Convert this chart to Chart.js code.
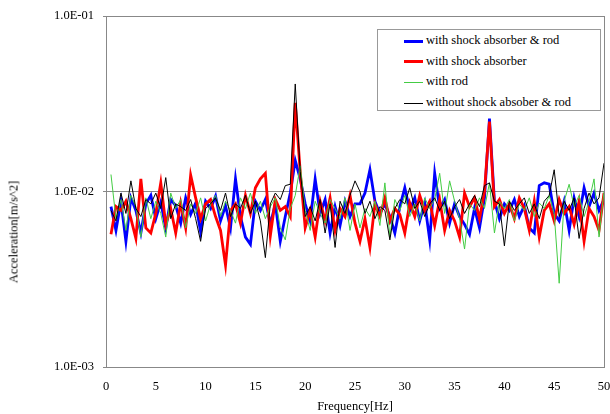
<!DOCTYPE html>
<html>
<head>
<meta charset="utf-8">
<script src="https://cdn.jsdelivr.net/npm/chart.js@4/dist/chart.umd.min.js"></script>
<style>
  body { margin: 0; background: #fff; }
  #wrap { position: relative; width: 610px; height: 414px; font-family: "Liberation Serif", serif; }
  #ytitle { position: absolute; left: 14px; top: 232px; transform: translate(-50%, -50%) rotate(-90deg);
            font-size: 12.5px; white-space: nowrap; color: #000; }
  #legend { position: absolute; left: 377px; top: 29px; width: 224px; height: 82px;
            border: 1px solid #999; background: #fff; box-sizing: border-box; }
  .item { position: absolute; left: 26px; height: 16px; font-size: 12.5px; line-height: 16px; white-space: nowrap; }
  .item span.sw { display: inline-block; width: 19px; vertical-align: middle; margin-right: 3px; }
</style>
</head>
<body>
<div id="wrap">
  <canvas id="chart" width="610" height="414"></canvas>
  <div id="ytitle">Acceleration[m/s^2]</div>
  <div id="legend"></div>
</div>
<script>
const freqs = [];
for (let i = 1; i <= 100; i++) freqs.push(i / 2);

const seriesNames = ['with shock absorber & rod', 'with shock absorber', 'with rod', 'without shock absober & rod'];

// with shock absorber & rod
const absorberRod = [
  0.0082, 0.0060, 0.0088, 0.0052, 0.0092, 0.0078, 0.0058, 0.0085, 0.0095, 0.0070,
  0.0087, 0.0062, 0.0090, 0.0083, 0.0066, 0.0092, 0.0074, 0.0086, 0.0059, 0.0088,
  0.0080, 0.0094, 0.0068, 0.0083, 0.0062, 0.0118, 0.0072, 0.0055, 0.0050, 0.0088,
  0.0078, 0.0090, 0.0065, 0.0085, 0.0052, 0.0072, 0.0098, 0.0150, 0.0118, 0.0085,
  0.0068, 0.0118, 0.0075, 0.0090, 0.0058, 0.0082, 0.0064, 0.0088, 0.0072, 0.0085,
  0.0085, 0.0098, 0.0133, 0.0088, 0.0075, 0.0085, 0.0072, 0.0058, 0.0082, 0.0105,
  0.0078, 0.0092, 0.0068, 0.0086, 0.0053, 0.0127, 0.0080, 0.0090, 0.0066, 0.0085,
  0.0072, 0.0065, 0.0057, 0.0080, 0.0062, 0.0092, 0.0260, 0.0088, 0.0070, 0.0085,
  0.0078, 0.0090, 0.0072, 0.0083, 0.0062, 0.0058, 0.0108, 0.0112, 0.0110, 0.0075,
  0.0068, 0.0088, 0.0060, 0.0092, 0.0072, 0.0105, 0.0082, 0.0098, 0.0078, 0.0090
];

// with shock absorber
const absorber = [
  0.0057, 0.0082, 0.0078, 0.0088, 0.0070, 0.0054, 0.0118, 0.0062, 0.0058, 0.0075,
  0.0112, 0.0065, 0.0080, 0.0058, 0.0086, 0.0062, 0.0124, 0.0092, 0.0070, 0.0085,
  0.0090, 0.0072, 0.0060, 0.0038, 0.0078, 0.0085, 0.0066, 0.0095, 0.0075, 0.0105,
  0.0118, 0.0127, 0.0056, 0.0090, 0.0078, 0.0082, 0.0072, 0.0320, 0.0130, 0.0062,
  0.0078, 0.0055, 0.0088, 0.0068, 0.0092, 0.0060, 0.0080, 0.0072, 0.0095, 0.0066,
  0.0052, 0.0070, 0.0048, 0.0085, 0.0072, 0.0092, 0.0068, 0.0080, 0.0074, 0.0058,
  0.0086, 0.0072, 0.0095, 0.0078, 0.0088, 0.0064, 0.0090, 0.0060, 0.0078, 0.0068,
  0.0055, 0.0098, 0.0082, 0.0092, 0.0070, 0.0100, 0.0250, 0.0082, 0.0090, 0.0075,
  0.0085, 0.0070, 0.0092, 0.0080, 0.0060, 0.0088, 0.0055, 0.0078, 0.0085, 0.0068,
  0.0090, 0.0075, 0.0082, 0.0065, 0.0088, 0.0052, 0.0080, 0.0072, 0.0060, 0.0098
];

// with rod
const rod = [
  0.0125, 0.0070, 0.0090, 0.0060, 0.0095, 0.0082, 0.0055, 0.0092, 0.0070, 0.0088,
  0.0075, 0.0055, 0.0098, 0.0080, 0.0090, 0.0062, 0.0085, 0.0075, 0.0092, 0.0068,
  0.0085, 0.0095, 0.0072, 0.0088, 0.0078, 0.0066, 0.0092, 0.0080, 0.0098, 0.0075,
  0.0088, 0.0070, 0.0082, 0.0092, 0.0062, 0.0053, 0.0080, 0.0095, 0.0140, 0.0078,
  0.0060, 0.0088, 0.0075, 0.0066, 0.0090, 0.0080, 0.0070, 0.0092, 0.0060, 0.0085,
  0.0062, 0.0080, 0.0072, 0.0088, 0.0064, 0.0112, 0.0055, 0.0090, 0.0078, 0.0095,
  0.0072, 0.0085, 0.0068, 0.0092, 0.0080, 0.0090, 0.0127, 0.0075, 0.0115, 0.0088,
  0.0070, 0.0047, 0.0085, 0.0078, 0.0092, 0.0080, 0.0112, 0.0058, 0.0088, 0.0080,
  0.0090, 0.0068, 0.0085, 0.0078, 0.0092, 0.0072, 0.0086, 0.0080, 0.0095, 0.0075,
  0.0030, 0.0088, 0.0110, 0.0082, 0.0095, 0.0072, 0.0088, 0.0118, 0.0055, 0.0100
];

// without shock absorber & rod
const bare = [
  0.0078, 0.0068, 0.0098, 0.0075, 0.0115, 0.0080, 0.0072, 0.0090, 0.0085, 0.0098,
  0.0080, 0.0120, 0.0070, 0.0085, 0.0082, 0.0078, 0.0090, 0.0070, 0.0052, 0.0080,
  0.0085, 0.0092, 0.0078, 0.0098, 0.0072, 0.0085, 0.0080, 0.0095, 0.0075, 0.0088,
  0.0068, 0.0042, 0.0085, 0.0098, 0.0090, 0.0108, 0.0110, 0.0410, 0.0130, 0.0072,
  0.0082, 0.0068, 0.0090, 0.0058, 0.0085, 0.0048, 0.0088, 0.0075, 0.0095, 0.0115,
  0.0100, 0.0075, 0.0088, 0.0070, 0.0082, 0.0078, 0.0053, 0.0080, 0.0090, 0.0085,
  0.0105, 0.0080, 0.0088, 0.0072, 0.0085, 0.0092, 0.0078, 0.0088, 0.0070, 0.0082,
  0.0090, 0.0075, 0.0085, 0.0095, 0.0082, 0.0108, 0.0112, 0.0088, 0.0085, 0.0049,
  0.0088, 0.0078, 0.0085, 0.0092, 0.0075, 0.0085, 0.0070, 0.0088, 0.0095, 0.0133,
  0.0072, 0.0088, 0.0078, 0.0092, 0.0054, 0.0080, 0.0098, 0.0085, 0.0092, 0.0145
];

const xTicks = [0, 5, 10, 15, 20, 25, 30, 35, 40, 45, 50];
const yTickValues = [0.001, 0.01, 0.1];
const yTickLabels = ['1.0E-03', '1.0E-02', '1.0E-01'];

const colors = ['#0000ff', '#ff0000', '#44cc44', '#000000'];
const widths = [2.8, 2.8, 1, 1];
const allData = [absorberRod, absorber, rod, bare];
const drawOrder = [3, 2, 1, 0];

const datasets = allData.map((vals, k) => ({
  label: seriesNames[k],
  data: vals.map((v, i) => ({ x: freqs[i], y: v })),
  borderColor: colors[k],
  borderWidth: widths[k],
  pointRadius: 0,
  tension: 0,
  fill: false,
  order: drawOrder[k]
}));

const frame = {
  id: 'frame',
  beforeDatasetsDraw(chart) {
    const a = chart.chartArea;
    const ctx = chart.ctx;
    ctx.save();
    ctx.strokeStyle = '#888';
    ctx.lineWidth = 1;
    ctx.strokeRect(Math.round(a.left) + 0.5, Math.round(a.top) + 0.5, Math.round(a.right - a.left), Math.round(a.bottom - a.top));
    ctx.restore();
  }
};

const font = { family: '"Liberation Serif", serif', size: 12.5 };

new Chart(document.getElementById('chart'), {
  type: 'line',
  data: { datasets: datasets },
  options: {
    responsive: false,
    animation: false,
    layout: { padding: { top: 16, right: 6, left: 0, bottom: 0 } },
    plugins: { legend: { display: false }, tooltip: { enabled: false } },
    scales: {
      x: {
        type: 'linear',
        min: 0, max: 50,
        afterBuildTicks: s => { s.ticks = xTicks.map(v => ({ value: v })); },
        afterFit: s => { s.height = 47; s.paddingRight = 0; s.paddingLeft = 0; },
        grid: { display: false, drawTicks: false },
        border: { color: '#888' },
        ticks: { color: '#000', font: font, padding: 12, maxRotation: 0 },
        title: { display: true, text: 'Frequency[Hz]', color: '#000', font: font, padding: 0 }
      },
      y: {
        type: 'logarithmic',
        min: 0.001, max: 0.1,
        afterBuildTicks: s => { s.ticks = yTickValues.map(v => ({ value: v })); },
        afterFit: s => { s.width = 106; s.paddingTop = 0; s.paddingBottom = 0; },
        grid: { color: '#888', tickLength: 3, drawTicks: true },
        border: { color: '#888' },
        ticks: {
          color: '#000', font: font, padding: 9,
          callback: v => { const i = yTickValues.indexOf(v); return i >= 0 ? yTickLabels[i] : ''; }
        }
      }
    }
  },
  plugins: [frame]
});

// legend box
const legend = document.getElementById('legend');
seriesNames.forEach((name, k) => {
  const it = document.createElement('div');
  it.className = 'item';
  it.style.top = (2 + k * 20.7) + 'px';
  const sw = document.createElement('span');
  sw.className = 'sw';
  sw.style.borderTop = (k < 2 ? 3 : 1.5) + 'px solid ' + colors[k];
  it.appendChild(sw);
  it.appendChild(document.createTextNode(name));
  legend.appendChild(it);
});
</script>
</body>
</html>
